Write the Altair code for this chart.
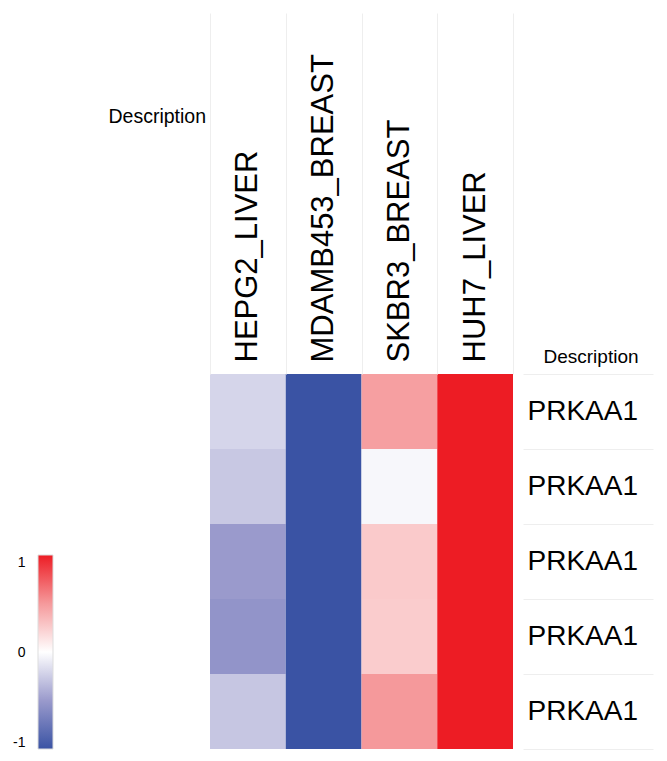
import json
import altair as alt
import pandas as pd

# ---- data ----
cell_lines = ["HEPG2_LIVER", "MDAMB453_BREAST", "SKBR3_BREAST", "HUH7_LIVER"]
row_ids = [1, 2, 3, 4, 5]
row_labels = ["PRKAA1", "PRKAA1", "PRKAA1", "PRKAA1", "PRKAA1"]
hepg2_liver = [-0.21, -0.27, -0.50, -0.54, -0.28]
mdamb453_breast = [-1.0, -1.0, -1.0, -1.0, -1.0]
skbr3_breast = [0.47, -0.04, 0.26, 0.25, 0.50]
huh7_liver = [1.0, 1.0, 1.0, 1.0, 1.0]

legend_values = [-1, 0, 1]
color_domain = [-1, -0.5, 0, 0.5, 1]
color_range = ["#3a53a4", "#9a9acc", "#ffffff", "#f5999b", "#ed1c24"]

series = [hepg2_liver, mdamb453_breast, skbr3_breast, huh7_liver]
records = []
for name, vals in zip(cell_lines, series):
    for rid, v in zip(row_ids, vals):
        records.append({"cell": name, "row": rid, "value": v})
df = pd.DataFrame(records)

legend_df = pd.DataFrame({"lo": [legend_values[0]], "hi": [legend_values[-1]]})

label_expr = json.dumps(row_labels) + "[datum.value - 1]"
FONT = "Liberation Sans"
PLOT_W, PLOT_H = 303, 375
LEG_W, LEG_LEN = 15, 194
TOP_TICK = 361
RIGHT_TICK = 130

color_scale = alt.Scale(domain=color_domain, range=color_range, interpolate="rgb")

# ---- heatmap ----
heat = alt.Chart(df).mark_rect().encode(
    x=alt.X(
        "cell:N",
        sort=cell_lines,
        scale=alt.Scale(paddingInner=0, paddingOuter=0),
        axis=alt.Axis(
            orient="top",
            labelAngle=270,
            labelAlign="left",
            labelBaseline="middle",
            labelFontSize=31,
            labelFont=FONT,
            labelColor="black",
            labelLimit=0,
            labelPadding=12 - TOP_TICK,
            tickBand="extent",
            tickSize=TOP_TICK,
            tickColor="#eeeeee",
            tickWidth=1,
            domain=False,
            title="Description",
            titleAngle=0,
            titleAlign="left",
            titleBaseline="middle",
            titleX=-102,
            titleY=-258,
            titleFont=FONT,
            titleFontSize=19.5,
            titleFontWeight="normal",
            titleColor="black",
        ),
    ),
    y=alt.Y(
        "row:O",
        sort=row_ids,
        scale=alt.Scale(paddingInner=0, paddingOuter=0),
        axis=alt.Axis(
            orient="right",
            offset=10,
            labelExpr=label_expr,
            labelAngle=0,
            labelAlign="left",
            labelBaseline="middle",
            labelFontSize=28,
            labelFont=FONT,
            labelColor="black",
            labelPadding=4 - RIGHT_TICK,
            tickBand="extent",
            tickSize=RIGHT_TICK,
            tickColor="#eeeeee",
            tickWidth=1,
            domain=False,
            title="Description",
            titleAngle=0,
            titleAlign="left",
            titleBaseline="middle",
            titleX=20,
            titleY=-18,
            titleFont=FONT,
            titleFontSize=19,
            titleFontWeight="normal",
            titleColor="black",
        ),
    ),
    color=alt.Color("value:Q", scale=color_scale, legend=None),
).properties(width=PLOT_W, height=PLOT_H)

# ---- colour legend (gradient bar built from the same colour stops) ----
stops = [
    alt.GradientStop(offset=(d - color_domain[0]) / (color_domain[-1] - color_domain[0]), color=c)
    for d, c in zip(color_domain, color_range)
]
legend = alt.Chart(legend_df).mark_rect(
    fill=alt.Gradient(gradient="linear", stops=stops, x1=0, x2=0, y1=1, y2=0),
    stroke="#dddddd",
    strokeWidth=1,
).encode(
    y=alt.Y(
        "lo:Q",
        scale=alt.Scale(domain=[legend_values[0], legend_values[-1]],
                        range=[PLOT_H, PLOT_H - LEG_LEN], nice=False, zero=False),
        axis=alt.Axis(
            values=legend_values,
            labelExpr="'' + datum.value",
            ticks=False,
            domain=False,
            grid=False,
            labelFlush=True,
            labelPadding=13,
            labelFontSize=14,
            labelFont=FONT,
            labelColor="black",
            title=None,
        ),
    ),
    y2="hi:Q",
).properties(width=LEG_W, height=PLOT_H)

chart = alt.hconcat(
    legend, heat, spacing=210 - 38 - LEG_W, bounds="flush"
).properties(
    padding={"left": 4, "top": 4, "right": 0, "bottom": 0},
).configure_view(strokeWidth=0)

chart.save("out.html", embed_options={"renderer": "svg", "actions": False})
